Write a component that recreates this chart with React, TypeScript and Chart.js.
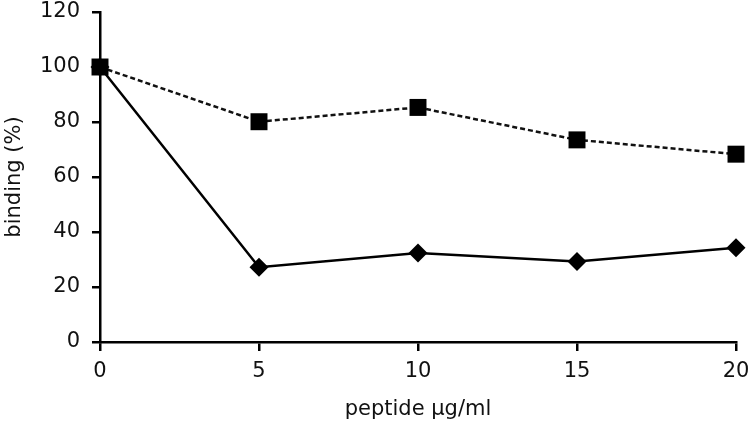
import React, { useEffect, useRef } from "react";
import { Chart, registerables } from "chart.js";

Chart.register(...registerables);

const concentrations = [0, 5, 10, 15, 20];
const squareSeries = [100, 80.1, 85.3, 73.5, 68.3];
const diamondSeries = [100, 27.2, 32.4, 29.3, 34.3];
const xTickValues = [0, 5, 10, 15, 20];
const xTitle = "peptide µg/ml";
const yTitle = "binding (%)";

export default function App() {
  const ref = useRef<HTMLCanvasElement | null>(null);
  useEffect(() => {
    if (!ref.current) return;
    const font = { family: "'DejaVu Sans', sans-serif", size: 21 };
    const chart = new Chart(ref.current, {
      type: "line",
      data: {
        datasets: [
          {
            label: "squares",
            data: concentrations.map((x, i) => ({ x, y: squareSeries[i] })),
            borderColor: "#111",
            borderWidth: 2.5,
            borderDash: [5, 3],
            pointStyle: "rect",
            pointRadius: 12,
            pointBackgroundColor: "#000",
            pointBorderWidth: 0,
            clip: false as any,
          },
          {
            label: "diamonds",
            data: concentrations.map((x, i) => ({ x, y: diamondSeries[i] })),
            borderColor: "#000",
            borderWidth: 2.5,
            pointStyle: "rectRot",
            pointRadius: 9.5,
            pointBackgroundColor: "#000",
            pointBorderWidth: 0,
            clip: false as any,
          },
        ],
      },
      options: {
        animation: false,
        responsive: false,
        layout: { padding: { top: 12, right: 14, left: 0, bottom: 0 } },
        plugins: { legend: { display: false }, tooltip: { enabled: false } },
        scales: {
          x: {
            type: "linear",
            min: 0,
            max: 20,
            afterFit: (s: any) => { s.height = 82; s.paddingLeft = 0; s.paddingRight = 0; },
            afterBuildTicks: (s: any) => { s.ticks = xTickValues.map((v) => ({ value: v })); },
            border: { display: true, color: "#000", width: 2.5 },
            grid: { display: true, drawOnChartArea: false, drawTicks: true, tickLength: 9, color: "#000", lineWidth: 2.5 },
            ticks: { color: "#111", font, padding: 8, maxRotation: 0 },
            title: { display: true, text: xTitle, color: "#111", font, padding: { top: 3, bottom: 2 } },
          },
          y: {
            min: 0,
            max: 120,
            afterFit: (s: any) => { s.width = 100; s.paddingTop = 0; s.paddingBottom = 0; },
            border: { display: true, color: "#000", width: 2.5 },
            grid: { display: true, drawOnChartArea: false, drawTicks: true, tickLength: 8, color: "#000", lineWidth: 2.5 },
            ticks: { stepSize: 20, color: "#111", font, padding: 12 },
            title: { display: true, text: yTitle, color: "#111", font, padding: { top: 2, bottom: 0 } },
          },
        },
      },
    });
    return () => chart.destroy();
  }, []);
  return (
    <div style={{ position: "fixed", left: 0, top: 0, width: 750, height: 424, background: "#fff" }}>
      <canvas ref={ref} width={750} height={424} style={{ width: 750, height: 424 }} />
    </div>
  );
}
